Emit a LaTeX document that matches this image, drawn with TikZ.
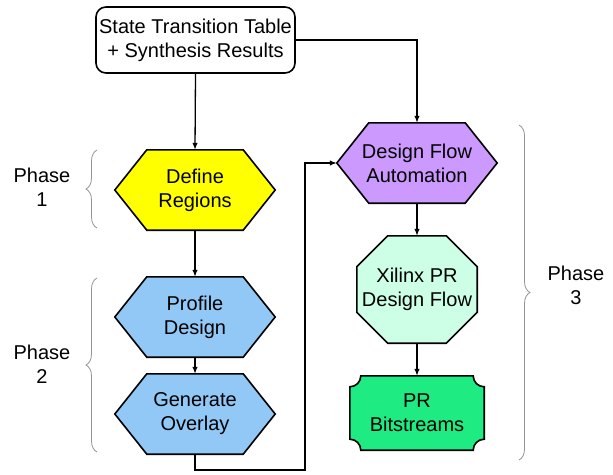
\documentclass[tikz,border=0pt]{standalone}
\usepackage{fontspec}
\setmainfont{Liberation Sans}
\usetikzlibrary{arrows.meta,calc,backgrounds,decorations.pathreplacing}

\definecolor{hexyellow}{RGB}{255,255,0}
\definecolor{hexblue}{RGB}{146,200,246}
\definecolor{hexpurple}{RGB}{204,153,255}
\definecolor{octmint}{RGB}{204,255,230}
\definecolor{tabgreen}{RGB}{30,235,130}

\begin{document}
\begin{tikzpicture}[x=1pt,y=1pt,
  every node/.style={font=\fontsize{20}{24}\selectfont, align=center, inner sep=0pt},
  startbox/.style={draw, rectangle, rounded corners=10pt, fill=white, line width=1.6pt,
                   minimum width=199pt, minimum height=66pt},
  hexbox/.style={rectangle, minimum width=160pt, minimum height=80pt},
  octbox/.style={rectangle, minimum width=120pt, minimum height=107pt},
  tagbox/.style={rectangle, minimum width=134pt, minimum height=74pt},
  outline/.style={draw=black, line width=1.6pt, line join=miter},
  flow/.style={line width=1.3pt, -{Latex[length=7pt,width=5.5pt]}},
  phasebrace/.style={draw=gray!85, line width=0.8pt, decorate,
                     decoration={brace, amplitude=11pt}}
]
\useasboundingbox (0,0) rectangle (613,-474);

% text nodes of the flow
\node[startbox] (top) at (195.5,-40) {State Transition Table\\+ Synthesis Results};
\node[hexbox] (def)  at (195,-190) {Define\\Regions};
\node[hexbox] (prof) at (195,-317) {Profile\\Design};
\node[hexbox] (gen)  at (195,-414) {Generate\\Overlay};
\node[hexbox] (dfa)  at (417,-163) {Design Flow\\Automation};
\node[octbox] (xil)  at (417,-289.5) {Xilinx PR\\Design Flow};
\node[tagbox] (pr)   at (417,-413) {PR\\Bitstreams};

% shape outlines behind the text
\begin{scope}[on background layer]
  \foreach \n/\c in {def/hexyellow, prof/hexblue, gen/hexblue, dfa/hexpurple} {
    \filldraw[outline, fill=\c] (\n.west) -- ($(\n.north west)+(32,0)$)
      -- ($(\n.north east)+(-32,0)$) -- (\n.east)
      -- ($(\n.south east)+(-32,0)$) -- ($(\n.south west)+(32,0)$) -- cycle;
  }
  \filldraw[outline, fill=octmint]
    ($(xil.north west)+(31,0)$) -- ($(xil.north east)+(-31,0)$)
    -- ($(xil.north east)+(0,-31)$) -- ($(xil.south east)+(0,31)$)
    -- ($(xil.south east)+(-31,0)$) -- ($(xil.south west)+(31,0)$)
    -- ($(xil.south west)+(0,31)$) -- ($(xil.north west)+(0,-31)$) -- cycle;
  \filldraw[outline, fill=tabgreen]
    ($(pr.north west)+(0,-11)$) arc[start angle=270, end angle=360, radius=11]
    -- ($(pr.north east)+(-11,0)$) arc[start angle=180, end angle=270, radius=11]
    -- ($(pr.south east)+(0,11)$) arc[start angle=90, end angle=180, radius=11]
    -- ($(pr.south west)+(11,0)$) arc[start angle=0, end angle=90, radius=11]
    -- cycle;
\end{scope}

% connectors
\coordinate (loop) at (305,-470);
\draw[flow] (top.south) -- (def.north);
\draw[flow] (top.east) -| (dfa.north);
\draw[flow] (def.south) -- (prof.north);
\draw[flow] (prof.south) -- (gen.north);
\draw[flow] (gen.south) |- (loop) |- (dfa.west);
\draw[flow] (dfa.south) -- (xil.north);
\draw[flow] (xil.south) -- (pr.north);

% phase braces and labels
\coordinate (b1s) at (97,-228);  \coordinate (b1e) at (97,-150);
\coordinate (b2s) at (97,-452);  \coordinate (b2e) at (97,-278);
\coordinate (b3s) at (519,-125); \coordinate (b3e) at (519,-460);
\draw[phasebrace] (b1s) -- (b1e);
\draw[phasebrace] (b2s) -- (b2e);
\draw[phasebrace] (b3s) -- (b3e);
\node (ph1) at (42,-187) {Phase\\1};
\node (ph2) at (42,-364) {Phase\\2};
\node (ph3) at (576,-285) {Phase\\3};
\end{tikzpicture}
\end{document}
